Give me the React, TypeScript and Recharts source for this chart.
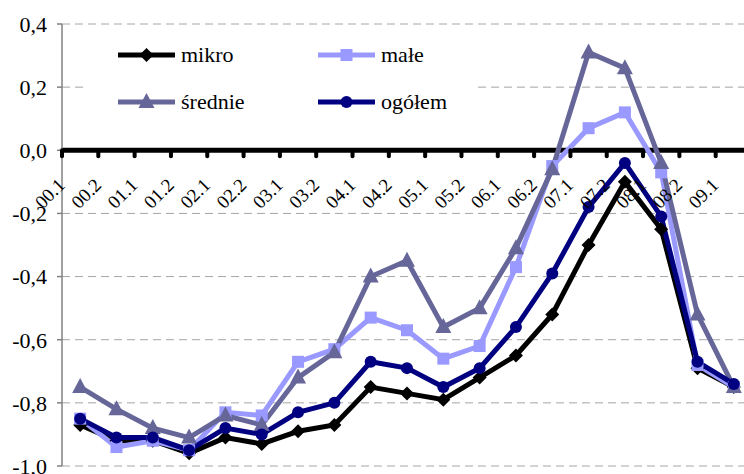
import { LineChart, Line, XAxis, YAxis, CartesianGrid, ReferenceLine } from "recharts";

const categories = [
  "00.1", "00.2", "01.1", "01.2", "02.1", "02.2", "03.1", "03.2", "04.1", "04.2",
  "05.1", "05.2", "06.1", "06.2", "07.1", "07.2", "08.1", "08.2", "09.1",
];
const mikro = [-0.87, -0.92, -0.92, -0.96, -0.91, -0.93, -0.89, -0.87, -0.75, -0.77, -0.79, -0.72, -0.65, -0.52, -0.3, -0.1, -0.25, -0.69, -0.75];
const male = [-0.85, -0.94, -0.92, -0.95, -0.83, -0.84, -0.67, -0.63, -0.53, -0.57, -0.66, -0.62, -0.37, -0.05, 0.07, 0.12, -0.07, -0.68, -0.75];
const srednie = [-0.75, -0.82, -0.88, -0.91, -0.84, -0.87, -0.72, -0.64, -0.4, -0.35, -0.56, -0.5, -0.31, -0.06, 0.31, 0.26, -0.04, -0.52, -0.75];
const ogolem = [-0.85, -0.91, -0.91, -0.95, -0.88, -0.9, -0.83, -0.8, -0.67, -0.69, -0.75, -0.69, -0.56, -0.39, -0.18, -0.04, -0.21, -0.67, -0.74];
const yTicks = [-1, -0.8, -0.6, -0.4, -0.2, 0, 0.2, 0.4];

const data = categories.map((cat, i) => ({
  cat,
  mikro: mikro[i],
  male: male[i],
  srednie: srednie[i],
  ogolem: ogolem[i],
}));

const series = [
  { key: "mikro", name: "mikro", color: "#000000", shape: "diamond", width: 5 },
  { key: "male", name: "małe", color: "#9999ff", shape: "square", width: 5 },
  { key: "srednie", name: "średnie", color: "#666699", shape: "triangle", width: 5 },
  { key: "ogolem", name: "ogółem", color: "#000080", shape: "circle", width: 5 },
];

const FONT = '"Liberation Serif", serif';
const W = 760;
const H = 474;
const TOP = 24;
const XH = 8;
const YW = 62;
const RIGHT = 8;
const Y_MIN = -1;
const Y_MAX = 0.4;
const plotH = H - TOP - XH;
const band = (W - YW - RIGHT) / categories.length;
const zeroY = TOP + (plotH * Y_MAX) / (Y_MAX - Y_MIN);

function Marker({ cx, cy, shape, color }: any) {
  if (cx == null || cy == null) return null;
  if (shape === "diamond")
    return <path d={`M${cx},${cy - 7}L${cx + 7},${cy}L${cx},${cy + 7}L${cx - 7},${cy}Z`} fill={color} />;
  if (shape === "square") return <rect x={cx - 6} y={cy - 6} width={12} height={12} fill={color} />;
  if (shape === "triangle")
    return <path d={`M${cx},${cy - 9}L${cx + 8},${cy + 6}L${cx - 8},${cy + 6}Z`} fill={color} />;
  return <circle cx={cx} cy={cy} r={6} fill={color} />;
}

function XTick({ x, payload }: any) {
  const lx = x - 14;
  const ly = zeroY + 36;
  return (
    <g>
      <line x1={x - band / 2} x2={x - band / 2} y1={zeroY} y2={zeroY + 6} stroke="#000" strokeWidth={4} strokeLinecap="round" />
      <text x={lx} y={ly} transform={`rotate(-45 ${lx} ${ly})`} textAnchor="end" style={{ fontFamily: FONT, fontSize: 19 }} fill="#000">
        {payload.value}
      </text>
    </g>
  );
}

function LegendBox() {
  return (
    <div style={{ position: "absolute", left: 84, top: 32, width: 394, height: 96, background: "#fff" }}>
      {series.map((s, i) => {
        const left = 34 + (i % 2) * 200;
        const cy = 23 + Math.floor(i / 2) * 47;
        return (
          <div key={s.key} style={{ position: "absolute", left, top: cy - 14, height: 28, display: "flex", alignItems: "center" }}>
            <svg width={57} height={18} style={{ display: "block" }}>
              <line x1={0} x2={57} y1={9} y2={9} stroke={s.color} strokeWidth={s.width} />
              <Marker cx={28.5} cy={9} shape={s.shape} color={s.color} />
            </svg>
            <span style={{ marginLeft: 6, fontFamily: FONT, fontSize: 22, color: "#000", lineHeight: "28px" }}>{s.name}</span>
          </div>
        );
      })}
    </div>
  );
}

export default function App() {
  return (
    <div style={{ position: "absolute", left: 0, top: 0, width: 744, height: 474, overflow: "hidden", background: "#fff", fontFamily: FONT }}>
      <LineChart width={W} height={H} data={data} margin={{ top: TOP, right: RIGHT, bottom: 0, left: 0 }} style={{ fontFamily: FONT }}>
        <CartesianGrid vertical={false} stroke="#a6a6a6" strokeDasharray="8 5" />
        <XAxis
          dataKey="cat"
          interval={0}
          axisLine={false}
          tickLine={false}
          height={XH}
          padding={{ left: band / 2, right: band / 2 }}
          tick={<XTick />}
        />
        <YAxis
          type="number"
          domain={[Y_MIN, Y_MAX]}
          ticks={yTicks}
          interval={0}
          width={YW}
          axisLine={{ stroke: "#808080", strokeWidth: 1.5 }}
          tickLine={{ stroke: "#808080", strokeWidth: 1.5 }}
          tickSize={5}
          tickMargin={10}
          tick={{ fill: "#000", fontSize: 22, style: { fontFamily: FONT } }}
          tickFormatter={(v: number) => v.toFixed(1).replace(".", ",")}
        />
        <ReferenceLine y={0} stroke="#000" strokeWidth={5} />
        {series.map((s) => (
          <Line
            key={s.key}
            dataKey={s.key}
            name={s.name}
            stroke={s.color}
            strokeWidth={s.width}
            isAnimationActive={false}
            activeDot={false}
            dot={(p: any) => <Marker key={`${s.key}-${p.index}`} cx={p.cx} cy={p.cy} shape={s.shape} color={s.color} />}
          />
        ))}
      </LineChart>
      <LegendBox />
    </div>
  );
}
